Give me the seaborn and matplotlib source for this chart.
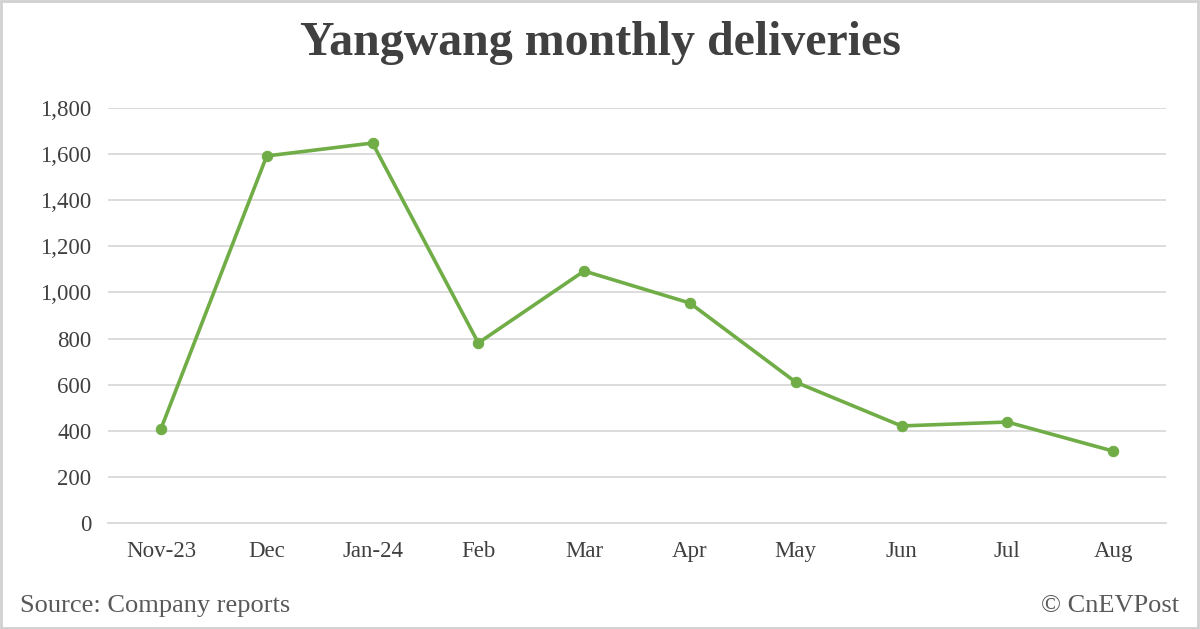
import matplotlib

matplotlib.use("Agg")

import matplotlib.pyplot as plt
import pandas as pd
import seaborn as sns
from matplotlib.patches import Rectangle
from matplotlib.ticker import FuncFormatter

months = ["Nov-23", "Dec", "Jan-24", "Feb", "Mar", "Apr", "May", "Jun", "Jul", "Aug"]
deliveries = [408, 1592, 1648, 781, 1093, 954, 611, 421, 438, 312]
y_ticks = [0, 200, 400, 600, 800, 1000, 1200, 1400, 1600, 1800]

df = pd.DataFrame({"month": months, "deliveries": deliveries})

sns.set_theme(style="white")
plt.rcParams["font.family"] = ["Liberation Serif", "DejaVu Serif"]

green = "#70AD47"
text_grey = "#404040"

fig = plt.figure(figsize=(12, 6.29), dpi=100)
ax = fig.add_axes([0.09, 0.1685, 0.8817, 0.6598])

sns.lineplot(
    data=df, x="month", y="deliveries", sort=False, ax=ax,
    color=green, linewidth=2.6, marker="o", markersize=7.5,
    markeredgecolor=green, markerfacecolor=green,
)

ax.set_xlim(-0.5, len(months) - 0.5)
ax.set_ylim(0, 1800)
ax.set_yticks(y_ticks)
ax.yaxis.set_major_formatter(FuncFormatter(lambda v, _: f"{int(v):,}"))
ax.grid(axis="y", color="#D9D9D9", linewidth=1.3)
ax.set_axisbelow(True)
for side in ["top", "right", "left"]:
    ax.spines[side].set_visible(False)
ax.spines["bottom"].set_color("#D9D9D9")
ax.spines["bottom"].set_linewidth(1.3)
ax.tick_params(axis="both", length=0, labelsize=16.5, labelcolor=text_grey)
ax.tick_params(axis="x", pad=13)
ax.tick_params(axis="y", pad=12)
ax.set_xlabel("")
ax.set_ylabel("")

fig.text(0.5, 0.932, "Yangwang monthly deliveries", ha="center", va="center",
         fontsize=34.5, fontweight="bold", color=text_grey)
fig.text(0.017, 0.037, "Source: Company reports", ha="left", va="center",
         fontsize=19, color="#595959")
fig.text(0.983, 0.037, "\u00a9 CnEVPost", ha="right", va="center",
         fontsize=19, color="#595959")

fig.patches.append(Rectangle((0.001, 0.002), 0.997, 0.996, transform=fig.transFigure,
                             fill=False, edgecolor="#D0D0D0", linewidth=2))

fig.savefig("out.png", dpi=100, facecolor="white")
